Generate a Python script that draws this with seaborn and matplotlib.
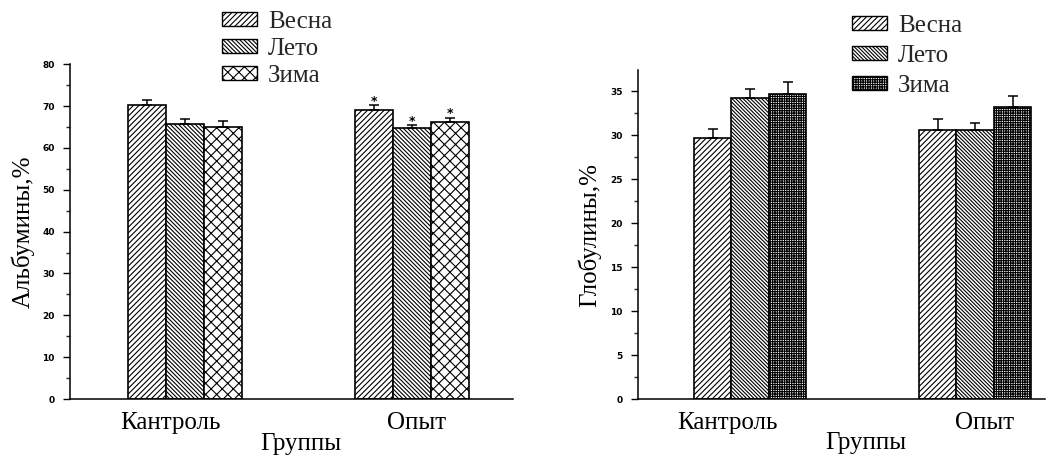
import matplotlib
matplotlib.use("Agg")
import matplotlib.pyplot as plt
import matplotlib.transforms as mtransforms
import seaborn as sns
import pandas as pd
import numpy as np
from matplotlib.patches import Patch
from matplotlib.ticker import MultipleLocator

groups = ["Кантроль", "Опыт"]
seasons = ["Весна", "Лето", "Зима"]

alb_control = [70.2, 65.8, 65.0]
alb_opyt = [69.1, 64.8, 66.3]
alb_err_control = [1.2, 1.2, 1.4]
alb_err_opyt = [1.1, 0.6, 0.9]

glob_control = [29.7, 34.2, 34.7]
glob_opyt = [30.6, 30.6, 33.2]
glob_err_control = [1.0, 1.0, 1.35]
glob_err_opyt = [1.2, 0.8, 1.2]

sns.set_theme(style="white")
plt.rcParams["hatch.linewidth"] = 0.8
serif = ["Liberation Serif", "DejaVu Serif"]

fig = plt.figure(figsize=(10.49, 4.55), dpi=100)
ax1 = fig.add_axes([0.0667, 0.123, 0.4223, 0.736])
ax2 = fig.add_axes([0.608, 0.123, 0.388, 0.723])


def make_df(ctrl, opyt, ectrl, eopyt):
    rows = []
    for g, vals, errs in [(groups[0], ctrl, ectrl), (groups[1], opyt, eopyt)]:
        for s, v, e in zip(seasons, vals, errs):
            rows.append({"Группа": g, "Сезон": s, "val": v, "err": e})
    return pd.DataFrame(rows)


def draw(ax, df, hatches, ylim, major, minor, xlim, label_shift, stars=False):
    sns.barplot(data=df, x="Группа", y="val", hue="Сезон", order=groups,
                hue_order=seasons, width=0.5, errorbar=None, ax=ax,
                facecolor="white", edgecolor="black", linewidth=1.2,
                legend=False)
    bar_conts = list(ax.containers)
    for ci, cont in enumerate(bar_conts):
        for bi, bar in enumerate(cont):
            bar.set_hatch(hatches[ci])
            bar.set_facecolor("white")
            bar.set_edgecolor("black")
            row = df[(df["Группа"] == groups[bi]) & (df["Сезон"] == seasons[ci])].iloc[0]
            xc = bar.get_x() + bar.get_width() / 2
            h = bar.get_height()
            ax.errorbar(xc, h, yerr=[[0], [row["err"]]], fmt="none",
                        ecolor="black", elinewidth=1.1, capsize=3.5,
                        capthick=1.1, zorder=5)
            if stars and bi == 1:
                ax.text(xc, h + row["err"] - 0.6, "*", ha="center",
                        va="bottom", fontsize=9, fontweight="bold",
                        color="black")
    ax.set_ylim(*ylim)
    ax.set_xlim(*xlim)
    ax.yaxis.set_major_locator(MultipleLocator(major))
    ax.yaxis.set_minor_locator(MultipleLocator(minor))
    for s in ["top", "right"]:
        ax.spines[s].set_visible(False)
    for s in ["left", "bottom"]:
        ax.spines[s].set_color("black")
        ax.spines[s].set_linewidth(1.1)
    ax.tick_params(axis="y", which="major", direction="out", length=5,
                   width=1, left=True, labelsize=6.5, pad=6, colors="black")
    ax.tick_params(axis="y", which="minor", direction="out", length=3,
                   width=1, left=True)
    ax.tick_params(axis="x", which="both", length=0, pad=9)
    for lbl in ax.get_yticklabels():
        lbl.set_fontweight("bold")
        lbl.set_family("DejaVu Sans")
    for lbl, dx in zip(ax.get_xticklabels(), label_shift):
        lbl.set_family(serif)
        lbl.set_fontsize(18)
        lbl.set_color("black")
        lbl.set_transform(lbl.get_transform() + mtransforms.ScaledTranslation(
            dx / 100.0, 0, fig.dpi_scale_trans))
    ax.set_xlabel("Группы", family=serif, fontsize=18, color="black",
                  labelpad=0)


df1 = make_df(alb_control, alb_opyt, alb_err_control, alb_err_opyt)
df2 = make_df(glob_control, glob_opyt, glob_err_control, glob_err_opyt)

h1 = ["//////", "\\\\\\\\\\\\\\\\", "xxx"]
h2 = ["//////", "\\\\\\\\\\\\\\\\\\", "+++++++"]

draw(ax1, df1, h1, (0, 80), 10, 5, (-0.507, 1.445), (-15, 5), stars=True)
draw(ax2, df2, h2, (0, 37.4), 5, 2.5, (-0.50, 1.31), (-23, 9))

ax1.set_ylabel("Альбумины,%", family=serif, fontsize=18, color="black",
               labelpad=5)
ax2.set_ylabel("Глобулины,%", family=serif, fontsize=18, color="black",
               labelpad=6)
ax1.xaxis.set_label_coords(0.52, -0.1)
ax2.xaxis.set_label_coords(0.56, -0.1)

for hatches, anchor, spacing in [(h1, (0.2116, 0.976), 0.2),
                                 (h2, (0.812, 0.968), 0.32)]:
    handles = [Patch(facecolor="white", edgecolor="black", hatch=h, label=s,
                     linewidth=1.0) for h, s in zip(hatches, seasons)]
    fig.legend(handles=handles, loc="upper left", bbox_to_anchor=anchor,
               frameon=False, prop={"family": serif, "size": 18},
               handlelength=1.4, handleheight=0.5, labelspacing=spacing,
               handletextpad=0.45, borderaxespad=0, borderpad=0)

fig.savefig("out.png", dpi=100)
